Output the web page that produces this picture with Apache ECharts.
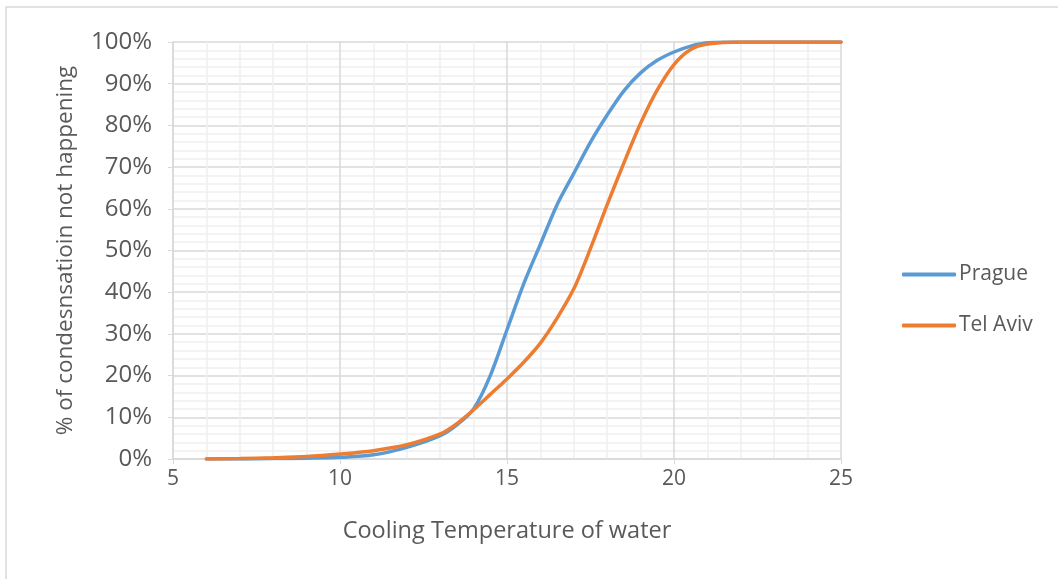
<!DOCTYPE html>
<html>
<head>
<meta charset="utf-8">
<script src="https://cdn.jsdelivr.net/npm/echarts@6/dist/echarts.min.js"></script>
<style>
html,body{margin:0;padding:0;background:#fff;}
#chart{width:1058px;height:579px;}
</style>
</head>
<body>
<div id="chart"></div>
<script>
const temps = [6,7,8,9,10,11,12,13,13.5,14,14.5,15,15.5,16,16.5,17,17.5,18,18.5,19,19.5,20,20.5,21,22,23,24,25];
const pragueValues = [0,0,0.1,0.2,0.4,1.0,2.8,5.6,8.2,12,20,31,42,51.5,61,68.5,76,82.5,88.3,92.6,95.6,97.6,99,99.8,100,100,100,100];
const telAvivValues = [0,0.1,0.3,0.6,1.2,2.0,3.4,6.0,8.5,11.8,15.5,19.2,23.2,27.8,33.8,40.8,50.5,61,71,80.5,88.5,94.6,98.2,99.5,100,100,100,100];
const seriesNames = ['Prague','Tel Aviv'];
const xTitle = 'Cooling Temperature of water';
const yTitle = '% of condesnsatioin not happening';

const FONT = '"Open Sans", sans-serif';
const TXT = '#595959';
const chart = echarts.init(document.getElementById('chart'));
const pairs = vals => temps.map((t,i)=>[t, vals[i]]);
chart.setOption({
  animation:false,
  graphic:[{type:'rect', shape:{x:6,y:7,width:1200,height:700}, style:{fill:'none', stroke:'#d9d9d9', lineWidth:1.5}, z:-1}],
  grid:{left:173,right:217,top:42,bottom:120},
  legend:{
    orient:'vertical', left:897, top:259, itemGap:30,
    itemWidth:54, itemHeight:4,
    textStyle:{fontFamily:FONT,fontSize:21,color:TXT,padding:[0,0,0,-2]},
    data:[{name:seriesNames[0],icon:'roundRect'},{name:seriesNames[1],icon:'roundRect'}]
  },
  xAxis:{
    type:'value', min:5, max:25, interval:5,
    name:xTitle, nameLocation:'middle', nameGap:60,
    nameTextStyle:{fontFamily:FONT,fontSize:23.5,color:TXT},
    axisLine:{show:true,lineStyle:{color:'#d9d9d9',width:1.5}},
    axisTick:{show:true,length:5,lineStyle:{color:'#d9d9d9'}},
    axisLabel:{fontFamily:FONT,fontSize:21,color:TXT,margin:10},
    splitLine:{show:true,lineStyle:{color:'#d9d9d9',width:1.5}},
    minorTick:{show:false,splitNumber:5},
    minorSplitLine:{show:true,lineStyle:{color:'#f0f0f0',width:1.5}}
  },
  yAxis:{
    type:'value', min:0, max:100, interval:10,
    name:yTitle, nameLocation:'middle', nameGap:96,
    nameTextStyle:{fontFamily:FONT,fontSize:22.5,color:TXT},
    axisLine:{show:true,lineStyle:{color:'#d9d9d9',width:1.5}},
    axisTick:{show:true,length:5,lineStyle:{color:'#d9d9d9'}},
    axisLabel:{fontFamily:FONT,fontSize:24,color:TXT,margin:21,formatter:'{value}%'},
    splitLine:{show:true,lineStyle:{color:'#d9d9d9',width:1.5}},
    minorTick:{show:false,splitNumber:5},
    minorSplitLine:{show:true,lineStyle:{color:'#f0f0f0',width:1.5}}
  },
  series:[
    {name:seriesNames[0],type:'line',data:pairs(pragueValues),smooth:0.3,showSymbol:false,
     lineStyle:{color:'#5B9BD5',width:3.5,cap:'round'},itemStyle:{color:'#5B9BD5'}},
    {name:seriesNames[1],type:'line',data:pairs(telAvivValues),smooth:0.3,showSymbol:false,
     lineStyle:{color:'#ED7D31',width:3.5,cap:'round'},itemStyle:{color:'#ED7D31'}}
  ]
});
</script>
</body>
</html>
